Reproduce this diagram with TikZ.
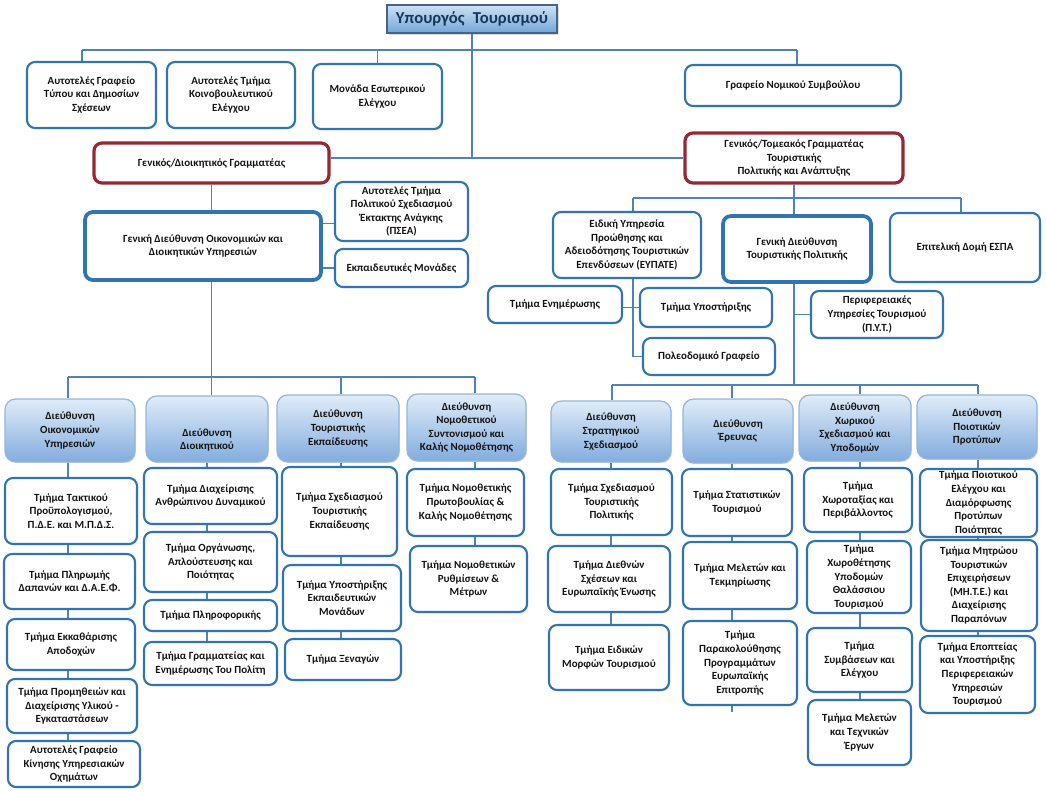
\documentclass[tikz,border=0pt]{standalone}
\usepackage{fontspec}
\setmainfont{Carlito}
\usetikzlibrary{shadows,calc}
\definecolor{bxblue}{RGB}{48,116,178}
\definecolor{connc}{RGB}{79,129,189}
\definecolor{redc}{RGB}{150,40,52}
\definecolor{dirtop}{RGB}{224,236,248}
\definecolor{dirbot}{RGB}{130,172,222}
\definecolor{dirborder}{RGB}{150,182,215}
\definecolor{mintop}{RGB}{205,225,244}
\definecolor{minbot}{RGB}{115,165,215}
\definecolor{minborder}{RGB}{70,100,135}
\definecolor{mintext}{RGB}{23,54,93}
\definecolor{txt}{RGB}{20,20,20}
\pgfdeclarelayer{bg}
\pgfsetlayers{bg,main}
\newcommand{\orgnode}[7]{\node[#2, minimum width={(#5-#3)*0.75pt}, minimum height={(#6-#4)*0.75pt}] (#1) at ({(#3+#5)/2},{(#4+#6)/2}) {#7};}
\tikzset{
  every node/.style={font=\bfseries\fontsize{8.2}{10.2}\selectfont, align=center, text=txt, inner sep=0pt},
  shd/.style={drop shadow={opacity=0.22, shadow xshift=0.9pt, shadow yshift=-0.9pt}},
  ob/.style={draw=bxblue, line width=1.6pt, fill=white, rounded corners=6pt, shd},
  obthick/.style={ob, line width=2.8pt},
  redbox/.style={draw=redc, line width=2.4pt, fill=white, rounded corners=6pt, shd},
  dirbox/.style={draw=dirborder, line width=0.9pt, top color=dirtop, bottom color=dirbot, rounded corners=8pt, shd},
  minbox/.style={draw=minborder, line width=0.8pt, top color=mintop, bottom color=minbot, text=mintext, font=\bfseries\fontsize{12.5}{14}\selectfont, drop shadow={opacity=0.3, shadow xshift=1.2pt, shadow yshift=-1.2pt}},
  conn/.style={draw=connc, line width=1.1pt},
}
\begin{document}
\begin{tikzpicture}[x=0.75pt, y=-0.75pt]
\useasboundingbox (0,0) rectangle (1046,792);
% top
\orgnode{min}{minbox}{387}{5}{557}{33}{Υπουργός\enspace Τουρισμού}
\orgnode{b1}{ob}{27}{62}{156}{128}{Αυτοτελές Γραφείο\\Τύπου και Δημοσίων\\Σχέσεων}
\orgnode{b2}{ob}{167}{62}{295}{128}{Αυτοτελές Τμήμα\\Κοινοβουλευτικού\\Ελέγχου}
\orgnode{b3}{ob}{313}{64}{442}{129}{Μονάδα Εσωτερικού\\Ελέγχου}
\orgnode{b4}{ob}{685}{65}{901}{106}{Γραφείο Νομικού Συμβούλου}
\orgnode{s1}{redbox}{94}{143}{329}{183}{Γενικός/Διοικητικός Γραμματέας}
\orgnode{s2}{redbox}{685}{133}{903}{183}{Γενικός/Τομεακός Γραμματέας\\Τουριστικής\\ Πολιτικής και Ανάπτυξης}
% left middle
\orgnode{a2}{ob}{335}{182}{468}{241}{Αυτοτελές Τμήμα\\Πολιτικού Σχεδιασμού\\Έκτακτης Ανάγκης\\(ΠΣΕΑ)}
\orgnode{gd1}{obthick}{85}{212}{321}{280}{Γενική Διεύθυνση Οικονομικών και\\Διοικητικών Υπηρεσιών}
\orgnode{a3}{ob}{335}{249}{468}{287}{Εκπαιδευτικές Μονάδες}
% right middle
\orgnode{e1}{ob}{553}{212}{701}{278}{Ειδική Υπηρεσία\\Προώθησης και\\Αδειοδότησης Τουριστικών\\Επενδύσεων (ΕΥΠΑΤΕ)}
\orgnode{e2}{obthick}{723}{216}{871}{282}{Γενική Διεύθυνση\\Τουριστικής Πολιτικής}
\orgnode{e3}{ob}{890}{213}{1040}{282}{Επιτελική Δομή ΕΣΠΑ}
\orgnode{f1}{ob}{488}{286}{622}{323}{Τμήμα Ενημέρωσης}
\orgnode{f2}{ob}{640}{288}{772}{327}{Τμήμα Υποστήριξης}
\orgnode{f3}{ob}{643}{338}{775}{375}{Πολεοδομικό Γραφείο}
\orgnode{f4}{ob}{811}{291}{943}{338}{Περιφερειακές\\Υπηρεσίες Τουρισμού\\(Π.Υ.Τ.)}
% directorates
\orgnode{d1}{dirbox}{5}{399}{135}{462}{Διεύθυνση\\Οικονομικών\\Υπηρεσιών}
\orgnode{d2}{dirbox}{146}{396}{268}{462}{\rule{0pt}{22pt}Διεύθυνση\\Διοικητικού}
\orgnode{d3}{dirbox}{277}{395}{399}{462}{Διεύθυνση\\Τουριστικής\\Εκπαίδευσης}
\orgnode{d4}{dirbox}{407}{394}{526}{461}{Διεύθυνση\\Νομοθετικού\\Συντονισμού και\\Καλής Νομοθέτησης}
\orgnode{d5}{dirbox}{551}{401}{671}{462}{Διεύθυνση\\Στρατηγικού\\Σχεδιασμού}
\orgnode{d6}{dirbox}{683}{399}{793}{463}{Διεύθυνση\\Έρευνας}
\orgnode{d7}{dirbox}{799}{395}{911}{461}{Διεύθυνση\\Χωρικού\\Σχεδιασμού και\\Υποδομών}
\orgnode{d8}{dirbox}{917}{395}{1037}{459}{Διεύθυνση\\Ποιοτικών\\Προτύπων}
% departments
\orgnode{c1a}{ob}{5}{478}{137}{544}{Τμήμα Τακτικού\\Προϋπολογισμού,\\Π.Δ.Ε. και Μ.Π.Δ.Σ.}
\orgnode{c1b}{ob}{4}{554}{135}{609}{Τμήμα Πληρωμής\\Δαπανών και Δ.Α.Ε.Φ.}
\orgnode{c1c}{ob}{7}{619}{135}{670}{Τμήμα Εκκαθάρισης\\Αποδοχών}
\orgnode{c1d}{ob}{7}{679}{137}{733}{Τμήμα Προμηθειών και\\Διαχείρισης Υλικού -\\Εγκαταστάσεων}
\orgnode{c1e}{ob}{8}{741}{140}{787}{Αυτοτελές Γραφείο\\Κίνησης Υπηρεσιακών\\Οχημάτων}
\orgnode{c2a}{ob}{144}{468}{277}{524}{Τμήμα Διαχείρισης\\Ανθρώπινου Δυναμικού}
\orgnode{c2b}{ob}{144}{532}{277}{592}{Τμήμα Οργάνωσης,\\Απλούστευσης και\\Ποιότητας}
\orgnode{c2c}{ob}{144}{600}{277}{631}{Τμήμα Πληροφορικής}
\orgnode{c2d}{ob}{144}{642}{277}{685}{Τμήμα Γραμματείας και\\Ενημέρωσης Του Πολίτη}
\orgnode{c3a}{ob}{282}{467}{397}{556}{Τμήμα Σχεδιασμού\\Τουριστικής\\Εκπαίδευσης}
\orgnode{c3b}{ob}{283}{565}{401}{631}{Τμήμα Υποστήριξης\\Εκπαιδευτικών\\Μονάδων}
\orgnode{c3c}{ob}{285}{639}{401}{680}{Τμήμα Ξεναγών}
\orgnode{c4a}{ob}{407}{469}{524}{536}{Τμήμα Νομοθετικής\\Πρωτοβουλίας \&\\Καλής Νομοθέτησης}
\orgnode{c4b}{ob}{410}{546}{527}{612}{Τμήμα Νομοθετικών\\Ρυθμίσεων \&\\Μέτρων}
\orgnode{c5a}{ob}{551}{469}{672}{535}{Τμήμα Σχεδιασμού\\Τουριστικής\\Πολιτικής}
\orgnode{c5b}{ob}{548}{546}{670}{612}{Τμήμα Διεθνών\\Σχέσεων και\\Ευρωπαϊκής Ένωσης}
\orgnode{c5c}{ob}{549}{625}{669}{690}{Τμήμα Ειδικών\\Μορφών Τουρισμού}
\orgnode{c6a}{ob}{682}{469}{792}{536}{Τμήμα Στατιστικών\\Τουρισμού}
\orgnode{c6b}{ob}{683}{542}{797}{609}{Τμήμα Μελετών και\\Τεκμηρίωσης}
\orgnode{c6c}{ob}{683}{621}{797}{705}{Τμήμα\\Παρακολούθησης\\Προγραμμάτων\\Ευρωπαϊκής\\Επιτροπής}
\orgnode{c7a}{ob}{804}{468}{912}{532}{Τμήμα\\Χωροταξίας και\\Περιβάλλοντος}
\orgnode{c7b}{ob}{807}{541}{911}{613}{Τμήμα\\Χωροθέτησης\\Υποδομών\\Θαλάσσιου\\Τουρισμού}
\orgnode{c7c}{ob}{807}{628}{912}{692}{Τμήμα\\Συμβάσεων και\\Ελέγχου}
\orgnode{c7d}{ob}{808}{700}{911}{765}{Τμήμα Μελετών\\και Τεχνικών\\Έργων}
\orgnode{c8a}{ob}{920}{469}{1037}{537}{Τμήμα Ποιοτικού\\Ελέγχου και\\Διαμόρφωσης\\Προτύπων\\Ποιότητας}
\orgnode{c8b}{ob}{921}{540}{1037}{631}{Τμήμα Μητρώου\\Τουριστικών\\Επιχειρήσεων\\(ΜΗ.Τ.Ε.) και\\Διαχείρισης\\Παραπόνων}
\orgnode{c8c}{ob}{920}{636}{1035}{713}{Τμήμα Εποπτείας\\και Υποστήριξης\\Περιφερειακών\\Υπηρεσιών\\Τουρισμού}
% bus coordinates
\coordinate (tL) at (82,50);
\coordinate (tR) at (797,50);
\coordinate (lbL) at (68,377);
\coordinate (lbR) at (475,377);
\coordinate (j3) at (341,377);
\coordinate (rtL) at (633,198);
\coordinate (rtR) at (961,198);
\coordinate (rbL) at (612,385);
\coordinate (rbR) at (978,385);
\coordinate (j6) at (732,385);
\coordinate (j7) at (860,385);
\path (a2.west) ++(0,12) coordinate (a2c);
\path (j6 |- c6c.south) ++(0,6) coordinate (c6end);
\begin{pgfonlayer}{bg}
% top level
\draw[conn] (tL) -- (tR);
\draw[conn] (tL) -- (tL |- b1.north);
\draw[conn] (b3.north |- tL) -- (b3.north);
\draw[conn] (tR) -- (tR |- b4.north);
\draw[conn] (min.south) -- (min.south |- s2.west);
\draw[conn] (s1.east |- s2.west) -- (s2.west);
% left branch
\draw[conn] (s1.south) -- (s1.south |- d2.north);
\draw[conn] (a2c) -- (a2c -| gd1.east);
\draw[conn] (a3.west) -- (a3.west -| gd1.east);
\draw[conn] (lbL) -- (lbR);
\draw[conn] (lbL) -- (lbL |- d1.north);
\draw[conn] (j3) -- (j3 |- d3.north);
\draw[conn] (lbR) -- (lbR |- d4.north);
\draw[conn] (lbL |- d1.south) -- (lbL |- c1e.north);
\draw[conn] (d2.south) -- (d2.south |- c2d.north);
\draw[conn] (j3 |- d3.south) -- (j3 |- c3c.north);
\draw[conn] (lbR |- d4.south) -- (lbR |- c4b.north);
% right branch
\draw[conn] (s2.south) -- (s2.south |- rbL);
\draw[conn] (rtL) -- (rtR);
\draw[conn] (rtL) -- (rtL |- e1.north);
\draw[conn] (rtR) -- (rtR |- e3.north);
\draw[conn] (rtL |- e1.south) -- (rtL |- f3.west) -- (f3.west);
\draw[conn] (f1.east |- f2.west) -- (f2.west);
\draw[conn] (s2.south |- f4.west) -- (f4.west);
\draw[conn] (rbL) -- (rbR);
\draw[conn] (rbL) -- (rbL |- d5.north);
\draw[conn] (j6) -- (j6 |- d6.north);
\draw[conn] (j7) -- (j7 |- d7.north);
\draw[conn] (rbR) -- (rbR |- d8.north);
\draw[conn] (d5.south) -- (d5.south |- c5c.north);
\draw[conn] (j6 |- d6.south) -- (c6end);
\draw[conn] (j7 |- d7.south) -- (j7 |- c7d.north);
\draw[conn] (rbR |- d8.south) -- (rbR |- c8c.north);
\end{pgfonlayer}
\end{tikzpicture}
\end{document}
